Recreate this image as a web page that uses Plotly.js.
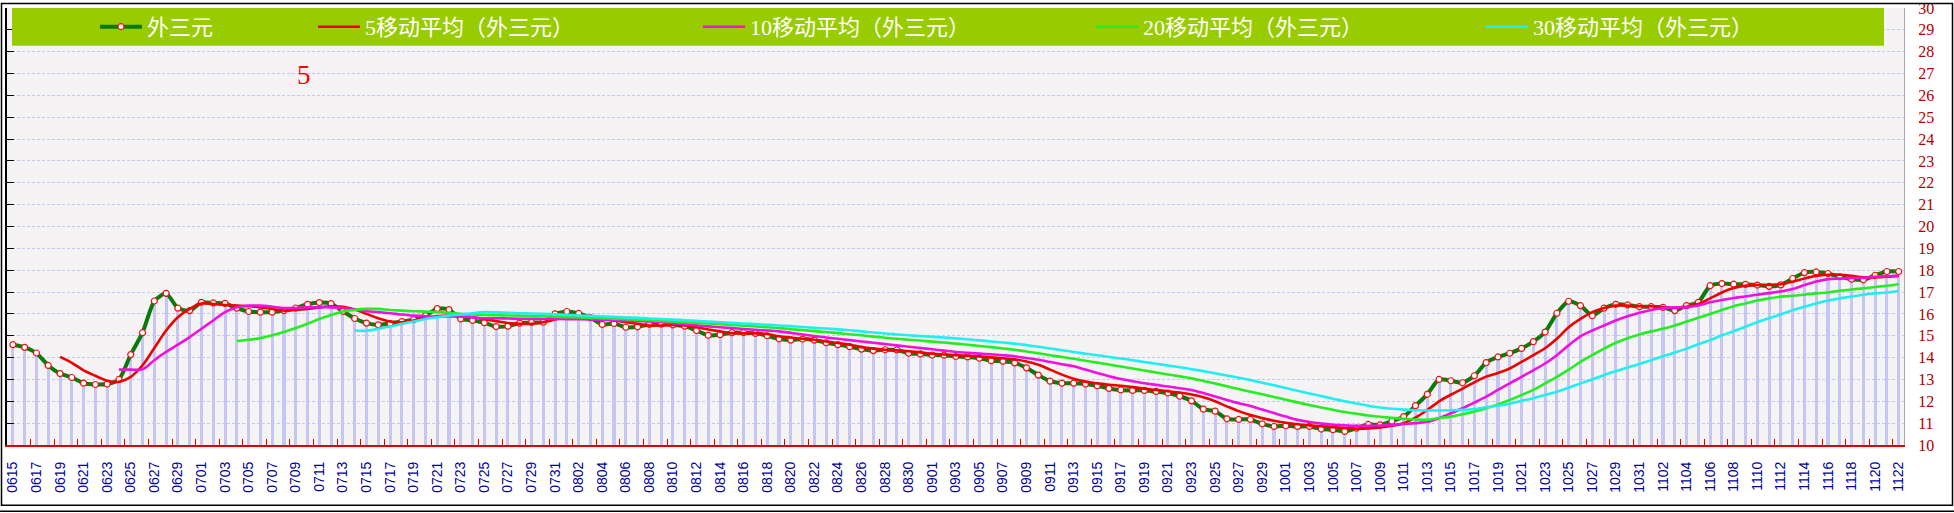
<!DOCTYPE html>
<html><head><meta charset="utf-8">
<script src="https://cdn.plot.ly/plotly-3.0.1.min.js"></script>
<style>html,body{margin:0;padding:0;background:#fff;overflow:hidden}#chart{width:1954px;height:513px}</style>
</head><body><div id="chart"></div>
<script>
// ---- data ----
const dates = ['0615','0616','0617','0618','0619','0620','0621','0622','0623','0624','0625','0626','0627','0628','0629','0630',
'0701','0702','0703','0704','0705','0706','0707','0708','0709','0710','0711','0712','0713','0714','0715','0716','0717','0718','0719','0720','0721','0722','0723','0724','0725','0726','0727','0728','0729','0730','0731',
'0801','0802','0803','0804','0805','0806','0807','0808','0809','0810','0811','0812','0813','0814','0815','0816','0817','0818','0819','0820','0821','0822','0823','0824','0825','0826','0827','0828','0829','0830','0831',
'0901','0902','0903','0904','0905','0906','0907','0908','0909','0910','0911','0912','0913','0914','0915','0916','0917','0918','0919','0920','0921','0922','0923','0924','0925','0926','0927','0928','0929','0930',
'1001','1002','1003','1004','1005','1006','1007','1008','1009','1010','1011','1012','1013','1014','1015','1016','1017','1018','1019','1020','1021','1022','1023','1024','1025','1026','1027','1028','1029','1030','1031',
'1101','1102','1103','1104','1105','1106','1107','1108','1109','1110','1111','1112','1113','1114','1115','1116','1117','1118','1119','1120','1121','1122'];

const waiSanYuan = [14.59,14.47,14.21,13.64,13.27,13.09,12.83,12.77,12.79,13.0,
14.14,15.14,16.59,16.94,16.26,16.15,16.53,16.5,16.48,16.26,
16.11,16.08,16.08,16.15,16.27,16.44,16.52,16.47,16.12,15.79,
15.58,15.5,15.56,15.65,15.74,15.92,16.24,16.2,15.77,15.7,
15.6,15.42,15.44,15.58,15.61,15.62,16.0,16.11,16.02,15.83,
15.52,15.56,15.39,15.41,15.52,15.53,15.5,15.44,15.24,15.02,
15.05,15.14,15.14,15.11,15.0,14.86,14.8,14.85,14.8,14.68,
14.59,14.5,14.39,14.32,14.36,14.35,14.2,14.17,14.12,14.11,
14.05,14.03,13.97,13.86,13.83,13.76,13.53,13.2,12.92,12.83,
12.83,12.79,12.71,12.59,12.52,12.5,12.5,12.45,12.38,12.23,
12.02,11.64,11.55,11.2,11.17,11.17,10.97,10.85,10.88,10.85,
10.85,10.73,10.7,10.62,10.77,10.94,10.92,11.09,11.3,11.8,
12.32,13.0,12.94,12.85,13.17,13.77,14.03,14.2,14.42,14.73,
15.17,16.03,16.58,16.38,15.92,16.26,16.44,16.41,16.33,16.33,
16.3,16.15,16.38,16.53,17.29,17.39,17.36,17.35,17.32,17.26,
17.33,17.62,17.89,17.92,17.85,17.7,17.59,17.56,17.77,17.94,
17.94];

const ma5 = [null,null,null,null,14.03,13.76,13.42,13.17,12.94,12.89,
13.12,13.65,14.44,15.24,15.85,16.23,16.48,16.45,16.41,16.38,
16.35,16.3,16.23,16.15,16.18,16.23,16.3,16.35,16.33,16.2,
16.0,15.8,15.65,15.62,15.7,15.8,15.89,15.92,15.89,15.85,
15.76,15.67,15.58,15.55,15.55,15.62,15.74,15.85,15.88,15.85,
15.77,15.7,15.62,15.55,15.47,15.47,15.5,15.47,15.39,15.29,
15.2,15.12,15.11,15.11,15.08,14.98,14.92,14.86,14.82,14.74,
14.67,14.59,14.48,14.41,14.36,14.33,14.29,14.24,14.18,14.14,
14.11,14.08,14.05,14.01,13.97,13.92,13.82,13.67,13.45,13.22,
13.03,12.9,12.82,12.76,12.71,12.65,12.58,12.52,12.46,12.4,
12.31,12.18,12.0,11.77,11.55,11.37,11.23,11.11,11.02,10.95,
10.9,10.86,10.82,10.78,10.75,10.76,10.8,10.88,11.0,11.25,
11.6,12.0,12.3,12.58,12.87,13.13,13.3,13.5,13.8,14.11,
14.43,14.86,15.39,15.77,16.08,16.27,16.38,16.38,16.35,16.35,
16.3,16.27,16.33,16.45,16.71,16.98,17.18,17.29,17.32,17.33,
17.36,17.47,17.62,17.74,17.79,17.79,17.74,17.67,17.67,17.7,
17.74];

const ma10 = [null,null,null,null,null,null,null,null,null,13.45,
13.45,13.47,13.88,14.26,14.59,14.94,15.32,15.7,16.08,16.3,
16.38,16.38,16.33,16.27,16.27,16.3,16.3,16.3,16.27,16.2,
16.12,16.08,16.03,15.97,15.92,15.89,15.88,15.88,15.88,15.85,
15.8,15.8,15.79,15.78,15.78,15.77,15.77,15.76,15.76,15.75,
15.73,15.71,15.69,15.67,15.65,15.62,15.58,15.53,15.48,15.43,
15.39,15.35,15.31,15.27,15.24,15.2,15.13,15.06,14.99,14.92,
14.86,14.8,14.74,14.68,14.62,14.56,14.5,14.44,14.38,14.32,
14.26,14.22,14.18,14.15,14.11,14.06,13.98,13.9,13.8,13.7,
13.6,13.45,13.3,13.15,13.02,12.92,12.83,12.75,12.68,12.6,
12.52,12.38,12.22,12.06,11.91,11.78,11.62,11.46,11.3,11.15,
11.05,10.98,10.93,10.9,10.88,10.88,10.89,10.92,10.96,11.0,
11.06,11.23,11.45,11.68,11.94,12.21,12.52,12.82,13.12,13.42,
13.73,14.11,14.56,14.97,15.24,15.47,15.7,15.89,16.05,16.18,
16.27,16.3,16.3,16.38,16.53,16.64,16.73,16.8,16.88,16.95,
17.03,17.14,17.32,17.48,17.59,17.62,17.64,17.65,17.7,17.73,
17.74];

const ma20 = [null,null,null,null,null,null,null,null,null,null,
null,null,null,null,null,null,null,null,null,14.76,
14.82,14.89,15.02,15.17,15.35,15.55,15.77,15.95,16.11,16.18,
16.23,16.23,16.18,16.15,16.12,16.11,16.08,16.05,16.0,15.98,
15.95,15.94,15.93,15.92,15.9,15.89,15.87,15.85,15.84,15.82,
15.8,15.78,15.76,15.73,15.71,15.68,15.65,15.62,15.59,15.56,
15.53,15.5,15.46,15.43,15.39,15.35,15.3,15.26,15.21,15.17,
15.12,15.07,15.02,14.96,14.91,14.86,14.82,14.78,14.73,14.69,
14.64,14.59,14.53,14.48,14.42,14.36,14.28,14.2,14.11,14.03,
13.95,13.86,13.77,13.68,13.59,13.5,13.41,13.32,13.23,13.14,
13.05,12.93,12.81,12.69,12.56,12.44,12.32,12.2,12.07,11.95,
11.83,11.72,11.61,11.51,11.43,11.35,11.29,11.24,11.2,11.17,
11.15,11.23,11.3,11.41,11.53,11.68,11.86,12.06,12.29,12.52,
12.82,13.12,13.45,13.8,14.11,14.41,14.68,14.89,15.06,15.2,
15.32,15.47,15.65,15.82,16.0,16.18,16.35,16.48,16.61,16.71,
16.79,16.83,16.88,16.94,16.98,17.06,17.12,17.17,17.23,17.29,
17.36];

const ma30 = [null,null,null,null,null,null,null,null,null,null,
null,null,null,null,null,null,null,null,null,null,
null,null,null,null,null,null,null,null,null,15.24,
15.23,15.32,15.42,15.55,15.65,15.77,15.85,15.92,15.97,16.03,
16.08,16.07,16.05,16.03,16.02,16.0,15.98,15.96,15.93,15.91,
15.89,15.87,15.84,15.82,15.79,15.77,15.74,15.71,15.68,15.65,
15.62,15.59,15.56,15.53,15.5,15.47,15.44,15.4,15.36,15.33,
15.29,15.25,15.2,15.15,15.1,15.06,15.02,14.99,14.95,14.92,
14.88,14.84,14.79,14.74,14.69,14.64,14.57,14.5,14.42,14.34,
14.26,14.18,14.11,14.03,13.96,13.88,13.8,13.72,13.64,13.56,
13.47,13.38,13.28,13.18,13.08,12.97,12.85,12.73,12.61,12.48,
12.36,12.24,12.12,12.0,11.9,11.8,11.72,11.66,11.62,11.59,
11.58,11.58,11.59,11.61,11.65,11.73,11.8,11.89,12.02,12.14,
12.29,12.44,12.62,12.82,13.0,13.2,13.38,13.55,13.71,13.88,
14.06,14.23,14.41,14.61,14.8,15.02,15.21,15.41,15.62,15.8,
15.98,16.17,16.33,16.48,16.61,16.71,16.8,16.88,16.94,16.98,
17.05];

const seriesNames = ['外三元','5移动平均（外三元）','10移动平均（外三元）','20移动平均（外三元）','30移动平均（外三元）'];
const yTickValues = [10,11,12,13,14,15,16,17,18,19,20,21,22,23,24,25,26,27,28,29,30];
const annotationText = '5';

// ---- geometry (pixels) ----
const W = 1954, H = 513;
const M = {l: 7, r: 50, t: 6, b: 68};
const PW = W - M.l - M.r, PH = H - M.t - M.b;
const px2x = p => (p - M.l) / PW;
const py2y = p => (H - M.b - p) / PH;

const idx = dates.map((d, i) => i);
const labelIdx = idx.filter(i => i % 2 === 0);
const labelTxt = labelIdx.map(i => dates[i]);
const boundaryIdx = labelIdx.map(i => i - 0.5);
const xr = [-0.5, dates.length - 1 + 0.45];

const serifCJK = '"Liberation Serif", "Noto Sans CJK SC", serif';

const traces = [
  {type: 'bar', x: idx, y: waiSanYuan, width: 0.26, marker: {color: '#c6c6f6', line: {width: 0}},
   showlegend: false, hoverinfo: 'skip'},
  {type: 'scatter', mode: 'lines+markers', name: seriesNames[0], x: idx, y: waiSanYuan,
   line: {color: '#0a7a0a', width: 4, shape: 'spline', smoothing: 0.6},
   marker: {symbol: 'circle', size: 6, color: '#ffffff', line: {color: '#ee1111', width: 1.2}},
   legend: 'legend'},
  {type: 'scatter', mode: 'lines', name: seriesNames[1], x: idx, y: ma5,
   line: {color: '#ee0000', width: 2.6, shape: 'spline', smoothing: 1}, legend: 'legend2'},
  {type: 'scatter', mode: 'lines', name: seriesNames[2], x: idx, y: ma10,
   line: {color: '#f010e0', width: 2.6, shape: 'spline', smoothing: 1}, legend: 'legend3'},
  {type: 'scatter', mode: 'lines', name: seriesNames[3], x: idx, y: ma20,
   line: {color: '#22ee22', width: 2.6, shape: 'spline', smoothing: 1}, legend: 'legend4'},
  {type: 'scatter', mode: 'lines', name: seriesNames[4], x: idx, y: ma30,
   line: {color: '#22eeee', width: 2.6, shape: 'spline', smoothing: 1}, legend: 'legend5'},
  {type: 'scatter', mode: 'lines', x: [], y: [], xaxis: 'x2', yaxis: 'y2', showlegend: false, hoverinfo: 'skip'}
];

const legendFont = {family: serifCJK, size: 22, color: '#ffffff'};
const legendStarts = [95, 313, 698, 1091, 1481];
function mkLegend(p) {
  return {orientation: 'h', x: px2x(p), xanchor: 'left', y: py2y(25), yanchor: 'middle', itemwidth: 42,
          bgcolor: 'rgba(0,0,0,0)', borderwidth: 0, font: legendFont, itemclick: false, itemdoubleclick: false};
}

const layout = {
  width: W, height: H,
  margin: M,
  paper_bgcolor: '#ffffff',
  plot_bgcolor: '#f5f3f3',
  showlegend: true,
  bargap: 0,
  legend: mkLegend(legendStarts[0]),
  legend2: mkLegend(legendStarts[1]),
  legend3: mkLegend(legendStarts[2]),
  legend4: mkLegend(legendStarts[3]),
  legend5: mkLegend(legendStarts[4]),
  xaxis: {range: xr, tickmode: 'array', tickvals: labelIdx, ticktext: labelTxt, tickangle: -90,
          tickfont: {family: '"Liberation Sans", Arial, sans-serif', size: 14, color: '#000099'},
          ticks: 'outside', ticklen: 10, tickcolor: 'rgba(0,0,0,0)', showgrid: false, zeroline: false,
          showline: false, fixedrange: true},
  xaxis2: {range: xr, overlaying: 'x', anchor: 'y2', side: 'bottom', tickmode: 'array', tickvals: boundaryIdx,
           ticks: 'inside', ticklen: 6, tickwidth: 1, tickcolor: '#dd0000', showticklabels: false,
           showline: true, linecolor: '#dd0000', linewidth: 1.5, showgrid: false, zeroline: false},
  yaxis: {range: [10, 30], side: 'right', tickmode: 'array', tickvals: yTickValues,
          tickfont: {family: '"Liberation Serif", serif', size: 16, color: '#b00000'},
          ticks: 'outside', ticklen: 10, tickcolor: 'rgba(0,0,0,0)', ticklabeloverflow: 'allow',
          showgrid: true, gridcolor: '#c6c6f0', gridwidth: 1, griddash: '3px,2px',
          showline: true, linecolor: '#a8a8a8', linewidth: 1, zeroline: false, fixedrange: true},
  yaxis2: {range: [10, 30], overlaying: 'y', anchor: 'x2', side: 'left', tickmode: 'array', tickvals: yTickValues,
           ticks: 'inside', ticklen: 7, tickwidth: 1, tickcolor: '#000000', showticklabels: false,
           showline: true, linecolor: '#000000', linewidth: 2, showgrid: false, zeroline: false},
  shapes: [
    {type: 'rect', xref: 'paper', yref: 'paper', x0: px2x(12), x1: px2x(1884), y0: py2y(44), y1: py2y(6),
     fillcolor: '#99cc00', line: {width: 0}, layer: 'above'},
    {type: 'rect', xref: 'paper', yref: 'paper', x0: px2x(1.5), x1: px2x(1952.5), y0: py2y(505.5), y1: py2y(1.5),
     fillcolor: 'rgba(0,0,0,0)', line: {color: '#000000', width: 1.5}, layer: 'above'},
    {type: 'line', xref: 'paper', yref: 'paper', x0: px2x(0), x1: px2x(1954), y0: py2y(511.5), y1: py2y(511.5),
     line: {color: '#000000', width: 1.5}, layer: 'above'}
  ],
  annotations: [
    {text: annotationText, xref: 'paper', yref: 'paper', x: px2x(304), y: py2y(73),
     xanchor: 'center', yanchor: 'middle', showarrow: false,
     font: {family: '"Liberation Serif", serif', size: 27, color: '#ff0000'}}
  ]
};

Plotly.newPlot('chart', traces, layout, {staticPlot: true, displayModeBar: false});
</script>
</body></html>
